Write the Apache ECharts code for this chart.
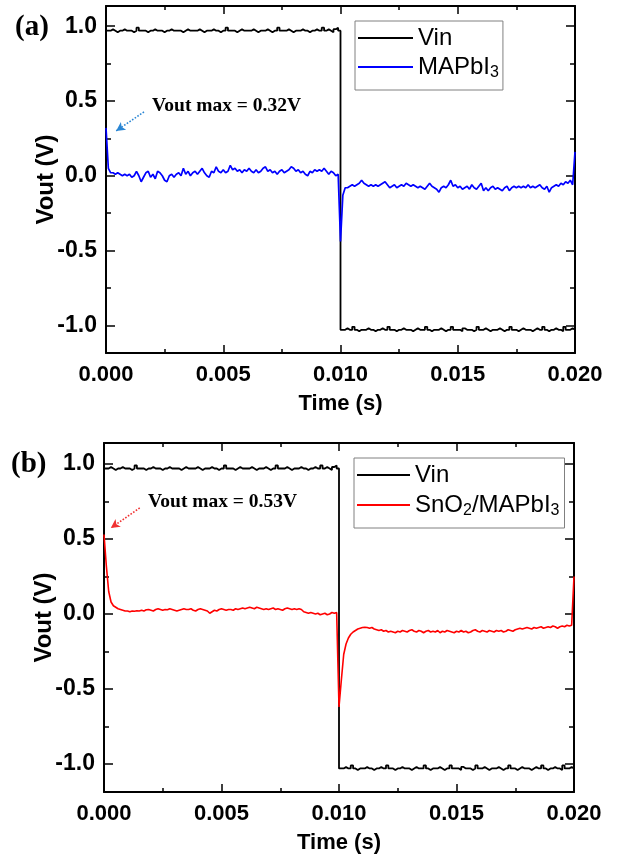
<!DOCTYPE html>
<html><head><meta charset="utf-8">
<script src="https://cdn.jsdelivr.net/npm/echarts@6/dist/echarts.min.js"></script>
<style>html,body{margin:0;padding:0;background:#fff}#c{width:627px;height:861px}</style>
</head><body><div id="c"></div>
<script>
// sampling step of the recorded traces (s)
const timeStep = 0.0001;
const xTicks = [0, 0.005, 0.010, 0.015, 0.020];
const yMajor = [-1.0, -0.5, 0.0, 0.5, 1.0];
const yMinor = [-0.75, -0.25, 0.25, 0.75];

// Input square wave (V)
const vin = [
0.97,0.97,0.98,0.97,0.96,0.97,0.97,0.98,0.97,0.97,
0.97,0.96,0.97,0.99,0.97,0.97,0.97,0.96,0.97,0.97,
0.98,0.97,0.97,0.97,0.96,0.97,0.97,0.98,0.97,0.97,
0.97,0.97,0.96,0.97,0.98,0.97,0.97,0.97,0.97,0.98,
0.97,0.96,0.97,0.97,0.97,0.98,0.97,0.97,0.96,0.97,
0.97,0.99,0.97,0.97,0.97,0.96,0.97,0.98,0.97,0.97,
0.97,0.97,0.98,0.97,0.96,0.97,0.97,0.97,0.98,0.97,
0.96,0.97,0.97,0.99,0.97,0.97,0.97,0.98,0.97,0.96,
0.97,0.97,0.97,0.98,0.97,0.97,0.96,0.97,0.97,0.98,
0.97,0.97,0.99,0.97,0.98,0.97,0.96,0.98,0.99,0.97,
-1.03,-1.03,-1.02,-1.03,-1.03,-1.01,-1.03,-1.04,-1.03,-1.03,
-1.03,-1.02,-1.03,-1.03,-1.04,-1.03,-1.03,-1.02,-1.03,-1.03,
-1.01,-1.03,-1.03,-1.04,-1.03,-1.03,-1.02,-1.03,-1.03,-1.03,
-1.04,-1.03,-1.02,-1.03,-1.03,-1.03,-1.01,-1.03,-1.04,-1.03,
-1.03,-1.03,-1.02,-1.03,-1.04,-1.03,-1.03,-1.01,-1.03,-1.03,
-1.03,-1.04,-1.02,-1.03,-1.03,-1.03,-1.04,-1.03,-1.01,-1.03,
-1.03,-1.02,-1.03,-1.04,-1.03,-1.03,-1.03,-1.02,-1.03,-1.04,
-1.03,-1.03,-1.01,-1.03,-1.03,-1.04,-1.03,-1.02,-1.03,-1.03,
-1.03,-1.04,-1.03,-1.02,-1.03,-1.03,-1.01,-1.03,-1.04,-1.03,
-1.03,-1.02,-1.03,-1.03,-1.04,-1.01,-1.03,-1.03,-1.02,-1.03,
-1.03
];

// Output, MAPbI3 device (V)
const voutMAPbI3 = [
0.32,0.05,0.02,0.02,0.01,0.02,0.01,0.00,0.01,0.00,
0.01,-0.01,0.00,0.03,0.00,-0.04,-0.01,0.02,0.03,-0.01,
0.01,-0.02,0.03,0.02,0.00,-0.03,-0.04,0.00,0.01,-0.01,
0.01,0.02,0.00,0.05,0.01,0.03,0.00,0.02,0.03,0.01,
0.03,0.05,0.02,0.00,-0.01,0.03,0.02,0.06,0.03,0.02,
0.04,0.02,0.03,0.07,0.04,0.05,0.03,0.04,0.02,0.04,
0.03,0.05,0.03,0.02,0.04,0.02,0.03,0.05,0.06,0.03,
0.04,0.02,0.03,0.01,0.03,0.04,0.02,0.03,0.04,0.06,
0.05,0.03,0.04,0.02,0.03,0.01,0.00,0.03,0.02,0.04,
0.03,0.04,0.03,0.05,0.03,0.01,0.03,0.02,0.00,0.01,
-0.44,-0.13,-0.08,
-0.08,-0.07,-0.06,-0.07,-0.06,-0.05,-0.03,-0.05,-0.06,-0.07,
-0.06,-0.07,-0.06,-0.07,-0.06,-0.05,-0.04,-0.06,-0.08,-0.07,
-0.06,-0.08,-0.07,-0.06,-0.07,-0.05,-0.06,-0.07,-0.06,-0.07,
-0.08,-0.07,-0.08,-0.09,-0.07,-0.05,-0.07,-0.08,-0.09,-0.11,
-0.08,-0.07,-0.08,-0.06,-0.03,-0.07,-0.06,-0.08,-0.07,-0.09,
-0.08,-0.07,-0.09,-0.06,-0.08,-0.09,-0.07,-0.05,-0.10,-0.08,
-0.10,-0.08,-0.07,-0.09,-0.08,-0.09,-0.10,-0.08,-0.07,-0.10,
-0.08,-0.07,-0.08,-0.07,-0.08,-0.07,-0.08,-0.06,-0.08,-0.07,
-0.08,-0.07,-0.06,-0.08,-0.09,-0.07,-0.11,-0.08,-0.07,-0.06,
-0.07,-0.05,-0.06,-0.04,-0.05,-0.03,-0.06,
0.16
];

// Output, SnO2/MAPbI3 device (V)
const voutSnO2 = [
0.53,0.32,0.15,0.08,0.055,0.045,0.035,0.03,0.025,0.02,
0.02,0.015,0.02,0.018,0.022,0.02,0.025,0.02,0.028,0.03,
0.025,0.02,0.03,0.035,0.03,0.025,0.03,0.028,0.035,0.03,
0.025,0.02,0.025,0.03,0.035,0.03,0.03,0.035,0.025,0.02,
0.03,0.035,0.03,0.025,0.02,0.005,0.015,0.025,0.02,0.03,
0.035,0.03,0.025,0.03,0.03,0.025,0.035,0.03,0.035,0.04,
0.035,0.04,0.045,0.04,0.035,0.045,0.04,0.035,0.03,0.035,
0.03,0.035,0.04,0.03,0.035,0.03,0.025,0.035,0.04,0.035,
0.03,0.035,0.03,0.035,0.03,0.015,0.01,0.005,0.01,0.005,
0.0,0.005,-0.005,0.0,0.005,-0.005,0.0,0.01,0.005,0.01,
-0.62,-0.44,-0.27,-0.20,-0.16,-0.135,-0.12,-0.11,-0.10,-0.095,
-0.09,-0.088,-0.09,-0.095,-0.09,-0.10,-0.105,-0.11,-0.105,-0.115,
-0.11,-0.12,-0.115,-0.12,-0.125,-0.115,-0.12,-0.11,-0.115,-0.12,
-0.11,-0.105,-0.115,-0.12,-0.11,-0.115,-0.125,-0.115,-0.11,-0.12,
-0.115,-0.12,-0.11,-0.125,-0.115,-0.12,-0.11,-0.115,-0.12,-0.125,
-0.115,-0.12,-0.11,-0.12,-0.115,-0.125,-0.12,-0.11,-0.105,-0.115,
-0.12,-0.11,-0.115,-0.12,-0.11,-0.115,-0.12,-0.11,-0.115,-0.11,
-0.12,-0.115,-0.105,-0.11,-0.115,-0.105,-0.10,-0.095,-0.10,-0.095,
-0.09,-0.095,-0.10,-0.09,-0.095,-0.09,-0.085,-0.095,-0.09,-0.085,
-0.09,-0.08,-0.085,-0.095,-0.085,-0.08,-0.085,-0.075,-0.08,-0.075,
0.25
];

// annotation arrows in data coordinates [time, volts]
const arrowA = [[0.00162, 0.427], [0.00043, 0.30]];
const arrowB = [[0.00152, 0.707], [0.00029, 0.573]];

const time = vin.map((_, i) => +(i * timeStep).toFixed(5));
const pairs = arr => arr.map((v, i) => [time[i], v]);

const FONT = '"Liberation Sans", Arial, sans-serif';
const SERIF = '"Liberation Serif", "Times New Roman", serif';

function xAx(grid, pos) {
  const bottom = pos === 'bottom';
  return {
    type: 'value', gridIndex: grid, position: pos, min: 0, max: 0.02, interval: 0.005,
    axisLine: { show: true, onZero: false, lineStyle: { color: '#000', width: 2 } },
    axisTick: { show: true, inside: true, length: 8, lineStyle: { color: '#000', width: 1.5 } },
    minorTick: { show: true, splitNumber: 2, length: 4, lineStyle: { color: '#000', width: 1.5 } },
    splitLine: { show: false }, minorSplitLine: { show: false },
    axisLabel: { show: bottom, margin: 11, formatter: v => v.toFixed(3), showMinLabel: true, showMaxLabel: true,
      fontSize: 22, fontWeight: 'bold', fontFamily: FONT, color: '#000' },
    name: bottom ? 'Time (s)' : '', nameLocation: 'middle', nameGap: 40,
    nameTextStyle: { fontSize: 22, fontWeight: 'bold', fontFamily: FONT, color: '#000' }
  };
}
function yAx(grid, pos, major, mn, mx) {
  const lbl = major && pos === 'left';
  return {
    type: 'value', gridIndex: grid, position: pos, min: mn, max: mx,
    axisLine: { show: major, onZero: false, lineStyle: { color: '#000', width: 2 } },
    axisTick: { show: true, inside: true, length: major ? 9 : 5, customValues: major ? yMajor : yMinor,
      lineStyle: { color: '#000', width: 1.5 } },
    splitLine: { show: false },
    axisLabel: { show: lbl, customValues: yMajor, margin: 9, formatter: v => v.toFixed(1),
      fontSize: 23, fontWeight: 'bold', fontFamily: FONT, color: '#000' },
    name: lbl ? 'Vout (V)' : '', nameLocation: 'middle', nameGap: 48, nameMoveOverlap: false,
    nameTextStyle: { fontSize: 24, fontWeight: 'bold', fontFamily: FONT, color: '#000' }
  };
}

const legendText = { fontSize: 24, fontFamily: FONT, color: '#000', lineHeight: 24,
  rich: { s: { fontSize: 16, fontFamily: FONT, color: '#000', lineHeight: 24, verticalAlign: 'top', padding: [10, 0, 0, 0] } } };

const option = {
  animation: false,
  backgroundColor: '#fff',
  grid: [
    { left: 106, top: 6, width: 469, height: 347 },
    { left: 104, top: 443, width: 470, height: 349 }
  ],
  xAxis: [xAx(0, 'bottom'), xAx(0, 'top'), xAx(1, 'bottom'), xAx(1, 'top')],
  yAxis: [
    yAx(0, 'left', true, -1.185, 1.135), yAx(0, 'left', false, -1.185, 1.135),
    yAx(0, 'right', true, -1.185, 1.135), yAx(0, 'right', false, -1.185, 1.135),
    yAx(1, 'left', true, -1.187, 1.14), yAx(1, 'left', false, -1.187, 1.14),
    yAx(1, 'right', true, -1.187, 1.14), yAx(1, 'right', false, -1.187, 1.14)
  ],
  legend: [
    { left: 355, top: 21, orient: 'vertical', icon: 'rect', itemWidth: 55, itemHeight: 2, itemGap: 5,
      padding: [5, 4, 9, 3], borderColor: '#808080', borderWidth: 1, backgroundColor: '#fff',
      data: ['Vin', 'MAPbI3'], selectedMode: false,
      formatter: n => n === 'MAPbI3' ? 'MAPbI{s|3}' : n, textStyle: legendText },
    { left: 354, top: 458, orient: 'vertical', icon: 'rect', itemWidth: 53, itemHeight: 2, itemGap: 6,
      padding: [5, 5, 9, 3], borderColor: '#808080', borderWidth: 1, backgroundColor: '#fff',
      data: ['Vin', 'SnO2/MAPbI3'], selectedMode: false,
      formatter: n => n === 'SnO2/MAPbI3' ? 'SnO{s|2}/MAPbI{s|3}' : n, textStyle: legendText }
  ],
  series: [
    { name: 'Vin', type: 'line', xAxisIndex: 0, yAxisIndex: 0, step: 'end', showSymbol: false,
      data: pairs(vin), lineStyle: { color: '#000', width: 1.8 }, itemStyle: { color: '#000' } },
    { name: 'MAPbI3', type: 'line', xAxisIndex: 0, yAxisIndex: 0, showSymbol: false,
      data: pairs(voutMAPbI3), lineStyle: { color: '#0000ff', width: 1.7 }, itemStyle: { color: '#0000ff' },
      markLine: { silent: true, symbol: ['none', 'arrow'], symbolSize: [7, 9], label: { show: false },
        lineStyle: { color: '#2a86d4', type: 'dotted', width: 1.6 },
        data: [[{ coord: arrowA[0] }, { coord: arrowA[1] }]] } },
    { name: 'Vin', type: 'line', xAxisIndex: 2, yAxisIndex: 4, step: 'end', showSymbol: false,
      data: pairs(vin), lineStyle: { color: '#000', width: 1.8 }, itemStyle: { color: '#000' } },
    { name: 'SnO2/MAPbI3', type: 'line', xAxisIndex: 2, yAxisIndex: 4, showSymbol: false,
      data: pairs(voutSnO2), lineStyle: { color: '#ff0000', width: 1.6 }, itemStyle: { color: '#ff0000' },
      markLine: { silent: true, symbol: ['none', 'arrow'], symbolSize: [7, 9], label: { show: false },
        lineStyle: { color: '#f03030', type: 'dotted', width: 1.6 },
        data: [[{ coord: arrowB[0] }, { coord: arrowB[1] }]] } }
  ],
  graphic: [
    { type: 'text', left: 15, top: 13, style: { text: '(a)', fontSize: 29, fontWeight: 'bold', fontFamily: SERIF, fill: '#000' } },
    { type: 'text', left: 11, top: 450, style: { text: '(b)', fontSize: 29, fontWeight: 'bold', fontFamily: SERIF, fill: '#000' } },
    { type: 'text', left: 152, top: 96, style: { text: 'Vout max = 0.32V', fontSize: 19.5, fontWeight: 'bold', fontFamily: SERIF, fill: '#000' } },
    { type: 'text', left: 148, top: 492, style: { text: 'Vout max = 0.53V', fontSize: 19.5, fontWeight: 'bold', fontFamily: SERIF, fill: '#000' } }
  ]
};
const chart = echarts.init(document.getElementById('c'), null, { renderer: 'canvas' });
chart.setOption(option);
</script></body></html>
